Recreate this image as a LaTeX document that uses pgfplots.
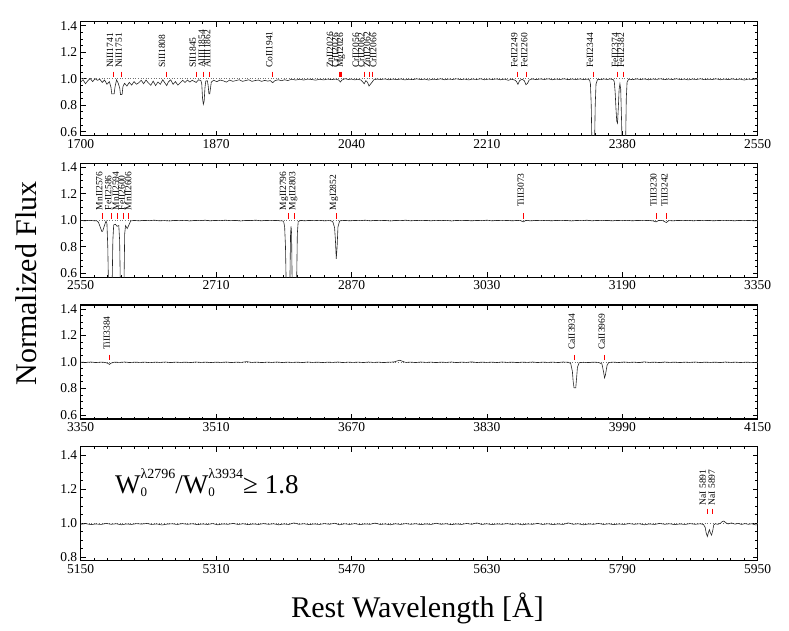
\documentclass[border=0pt]{standalone}
\usepackage{pgfplots}
\pgfplotsset{compat=1.18}
\usepackage{fontspec}
\setmainfont{Liberation Serif}

\pgfplotsset{
  panel/.style={
    scale only axis, width=677pt, height=114pt, anchor=north west,
    tick align=inside,
    minor x tick num=9, minor y tick num=3,
    major tick length=5pt, minor tick length=2.5pt,
    axis line style={line width=1.2pt},
    every tick/.style={black, line width=0.8pt},
    tick label style={font=\fontsize{13.5}{14}\selectfont},
    /pgf/number format/assume math mode=true,
    xticklabel style={/pgf/number format/1000 sep={}},
    yticklabel style={/pgf/number format/.cd, fixed, fixed zerofill, precision=1},
    ymin=0.57, ymax=1.43, ytick={0.6,0.8,1.0,1.2,1.4},
  },
  spec/.style={black!85, line width=0.6pt},
  unity/.style={black!55, dotted, line width=0.6pt},
  mk/.style={only marks, mark=|, mark size=2.8pt, red, mark options={line width=1pt}},
}
\tikzset{lbl/.style={rotate=90, anchor=west, inner sep=0pt, font=\fontsize{9.5}{10}\selectfont}}
% W with a stacked subscript 0 and a small raised superscript
\newcommand\Wsub[1]{W\rlap{\raisebox{-3pt}{\fontsize{13}{13}\selectfont 0}}\raisebox{15pt}{\fontsize{14}{14}\selectfont #1}}

\begin{document}
\begin{tikzpicture}
\useasboundingbox (0,0) rectangle (789pt,-630pt);

% ---------------- panel 1 ----------------
\begin{axis}[panel, at={(80.7pt,-21.7pt)}, xmin=1700, xmax=2550,
  xtick={1700,1870,2040,2210,2380,2550}]
\addplot[unity] coordinates {(1700,1)(2550,1)};
\addplot[spec] coordinates {
(1700,0.975)(1703,0.992)(1706,0.962)(1709,0.985)(1712,1.002)(1715,0.978)(1718,1.000)(1721,0.988)(1724,0.996)(1727,0.972)(1730,0.990)(1733,0.958)(1736,0.978)
(1738,0.935)(1739,0.885)(1742,0.885)(1743,0.935)(1745,0.992)(1747,0.968)(1749,0.930)(1750,0.880)(1752,0.882)(1753,0.940)(1755,0.965)
(1758,0.945)(1761,0.972)(1764,0.952)(1767,0.978)(1770,0.958)(1773,0.970)(1776,0.988)(1779,0.962)(1782,0.990)(1785,0.968)(1788,0.950)(1791,0.982)(1794,0.948)(1797,0.975)(1800,0.958)(1803,0.992)(1806,0.965)(1808,0.948)(1810,0.975)(1813,0.992)(1816,0.958)(1819,0.978)(1822,0.952)(1825,0.970)(1828,0.988)(1831,0.972)(1834,0.990)(1837,0.975)(1840,0.988)(1843,0.978)(1845,0.972)(1848,0.992)(1851,0.985)
(1852,0.960)(1853,0.850)(1854,0.808)(1855,0.830)(1856,0.930)(1857,0.982)(1859,0.985)(1860,0.950)(1861,0.885)(1862,0.885)(1863,0.930)(1864,0.975)(1867,0.988)
(1871,0.978)(1875,0.990)(1879,0.984)(1883,0.974)(1887,0.990)(1891,0.980)(1895,0.986)(1899,0.992)(1903,0.980)(1907,0.986)(1911,0.992)(1915,0.980)(1919,0.986)(1923,0.990)(1927,0.980)(1931,0.987)(1935,0.982)(1938,0.986)(1941,0.970)(1944,0.986)(1948,0.992)(1952,0.985)(1956,0.992)(1960,0.986)
(1965,0.996)(1970,0.990)(1975,0.996)(1980,0.990)(1985,0.997)(1990,0.994)(1995,0.989)(2000,0.996)(2005,0.991)(2010,0.997)(2015,0.993)(2020,0.997)(2024,0.990)(2026,0.975)(2028,0.990)(2032,1.000)(2036,0.994)(2040,0.997)(2044,0.991)(2048,0.996)(2052,0.990)(2054,0.976)(2056,0.962)(2058,0.985)(2060,0.974)(2062,0.945)(2064,0.960)(2066,0.975)(2068,0.992)
(2072,0.997)(2077,0.994)(2082,0.998)(2087,0.992)(2092,0.997)(2097,0.993)(2102,0.998)(2107,0.991)(2112,0.996)(2117,0.993)(2122,0.999)(2127,0.993)(2132,0.997)(2137,0.990)(2142,0.996)(2147,0.994)(2152,0.999)(2157,0.992)(2162,0.997)(2167,0.994)(2172,0.999)(2177,0.993)(2182,0.997)(2187,0.991)(2192,0.997)(2197,0.994)(2202,0.999)(2207,0.992)(2212,0.997)(2217,0.994)(2222,0.998)(2227,0.992)(2232,0.997)(2237,0.988)(2241,0.996)
(2245,0.990)(2247,0.980)(2249,0.958)(2251,0.985)(2254,0.996)(2257,0.985)(2259,0.955)(2261,0.965)(2263,0.990)
(2267,0.998)(2272,0.993)(2277,0.998)(2282,0.994)(2287,0.999)(2292,0.992)(2297,0.997)(2302,0.994)(2307,0.999)(2312,0.993)(2317,0.997)(2322,0.994)(2327,0.998)(2332,0.993)(2336,0.997)
(2339,0.990)(2340,0.960)(2341,0.800)(2342,0.450)(2345,0.450)(2346,0.800)(2347,0.960)(2349,0.995)
(2353,0.993)(2357,0.998)(2361,0.994)(2365,0.998)(2369,0.992)
(2370,0.975)(2371,0.900)(2372,0.780)(2373,0.680)(2374,0.665)(2375,0.780)(2376,0.920)(2377,0.962)(2378,0.920)(2379,0.700)(2380,0.450)(2384,0.450)(2385,0.850)(2386,0.975)(2388,0.996)
(2393,0.993)(2398,0.998)(2403,0.994)(2408,0.998)(2413,0.992)(2418,0.997)(2423,0.995)(2428,0.999)(2433,0.993)(2438,0.997)(2443,0.994)(2448,0.999)(2453,0.993)(2458,0.997)(2463,0.991)(2468,0.997)(2473,0.994)(2478,0.999)(2483,0.993)(2488,0.996)(2493,0.994)(2498,0.999)(2503,0.992)(2508,0.997)(2513,0.993)(2518,0.998)(2523,0.994)(2528,0.997)(2533,0.990)(2538,0.997)(2543,0.994)(2548,0.997)(2550,0.995)
};
\addplot[mk] coordinates {(1741,1.033)(1751,1.033)(1808,1.033)(1845,1.033)(1854,1.033)(1862,1.033)(1941,1.033)(2025,1.033)(2026,1.033)(2027,1.033)(2056,1.033)(2062,1.033)(2066,1.033)(2249,1.033)(2260,1.033)(2344,1.033)(2374,1.033)(2382,1.033)};
\node[lbl] at (axis cs:1736.8,1.08) {NiII1741};
\node[lbl] at (axis cs:1747.7,1.08) {NiII1751};
\node[lbl] at (axis cs:1802,1.08) {SiII1808};
\node[lbl] at (axis cs:1840.6,1.08) {SII1845};
\node[lbl] at (axis cs:1851.9,1.08) {AlIII1854};
\node[lbl] at (axis cs:1858.6,1.08) {AlIII1862};
\node[lbl] at (axis cs:1936.8,1.08) {CoII1941};
\node[lbl] at (axis cs:2013,1.08) {ZnII2026};
\node[lbl] at (axis cs:2019.7,1.08) {CrII2026};
\node[lbl] at (axis cs:2026.8,1.08) {MgI2026};
\node[lbl] at (axis cs:2045.3,1.08) {CrII2056};
\node[lbl] at (axis cs:2052.3,1.08) {CrII2062};
\node[lbl] at (axis cs:2059.5,1.08) {ZnII2062};
\node[lbl] at (axis cs:2067.4,1.08) {CrII2066};
\node[lbl] at (axis cs:2244.4,1.08) {FeII2249};
\node[lbl] at (axis cs:2257,1.08) {FeII2260};
\node[lbl] at (axis cs:2339.4,1.08) {FeII2344};
\node[lbl] at (axis cs:2370.8,1.08) {FeII2374};
\node[lbl] at (axis cs:2378.3,1.08) {FeII2382};
\end{axis}

% ---------------- panel 2 ----------------
\begin{axis}[panel, at={(80.7pt,-163.3pt)}, xmin=2550, xmax=3350,
  xtick={2550,2710,2870,3030,3190,3350}]
\addplot[unity] coordinates {(2550,1)(3350,1)};
\addplot[spec] coordinates {
(2550,0.999)(2555,0.996)(2560,1.000)(2565,0.997)(2569,0.996)(2571,0.985)(2573,0.950)(2575,0.915)(2576,0.918)(2578,0.960)(2580,0.995)
(2581,0.975)(2582,0.800)(2583,0.450)(2587,0.450)(2588,0.850)(2589,0.965)(2591,0.970)(2593,0.955)(2595,0.960)(2596,0.850)(2597,0.450)(2601,0.450)(2602,0.900)(2603,0.960)(2605,0.938)(2607,0.965)(2609,0.995)
(2613,0.999)(2619,0.996)(2625,0.999)(2631,0.997)(2637,1.001)(2643,0.996)(2649,0.998)(2655,0.995)(2661,0.999)(2667,0.997)(2673,1.000)(2679,0.995)(2685,0.999)(2691,0.997)(2697,1.001)(2703,0.996)(2709,0.999)(2715,0.997)(2721,1.001)(2727,0.997)(2733,0.999)(2739,0.995)(2745,0.999)(2751,0.998)(2757,1.001)(2763,0.996)(2769,0.999)(2775,0.997)(2781,0.999)(2786,0.996)
(2789,0.995)(2790,0.985)(2791,0.950)(2792,0.800)(2793,0.450)(2797,0.450)(2798,0.900)(2798.6,0.955)(2799.2,0.900)(2800,0.450)(2805,0.450)(2806,0.900)(2807,0.990)
(2810,0.999)(2815,0.996)(2820,0.999)(2826,0.997)(2832,1.000)(2838,0.996)(2843,0.998)(2846,0.996)
(2848,0.988)(2850,0.945)(2851,0.850)(2852,0.710)(2853,0.800)(2854,0.950)(2856,0.996)
(2862,0.999)(2868,0.996)(2874,0.999)(2880,0.997)(2886,1.001)(2892,0.996)(2898,0.999)(2904,0.997)(2910,0.999)(2916,0.995)(2922,0.999)(2928,0.997)(2934,1.001)(2940,0.996)(2946,0.999)(2952,0.997)(2958,0.999)(2964,0.996)(2970,1.000)(2976,0.997)(2982,1.000)(2988,0.995)(2994,0.999)(3000,0.997)(3006,0.999)(3012,0.996)(3018,0.999)(3024,0.997)(3030,1.001)(3036,0.996)(3042,0.999)(3048,0.997)(3054,0.999)(3060,0.996)(3066,0.999)
(3070,0.997)(3073,0.988)(3076,0.999)
(3082,0.996)(3088,0.999)(3094,0.997)(3100,1.000)(3106,0.996)(3112,0.999)(3118,0.997)(3124,0.999)(3130,0.995)(3136,0.999)(3142,0.997)(3148,1.001)(3154,0.996)(3160,0.999)(3166,0.997)(3172,0.999)(3178,0.996)(3184,0.999)(3190,0.997)(3196,1.000)(3202,0.996)(3208,0.999)(3214,0.997)(3220,0.999)(3226,0.996)
(3230,0.988)(3233,0.999)(3238,0.997)(3242,0.983)(3245,0.998)
(3250,0.996)(3256,0.999)(3262,0.997)(3268,1.000)(3274,0.996)(3280,0.999)(3286,0.997)(3292,0.999)(3298,0.996)(3304,0.999)(3310,0.997)(3316,1.000)(3322,0.996)(3328,0.999)(3334,0.997)(3340,0.999)(3346,0.996)(3350,0.998)
};
\addplot[mk] coordinates {(2576,1.033)(2586,1.033)(2594,1.033)(2600,1.033)(2606,1.033)(2796,1.033)(2803,1.033)(2852,1.033)(3073,1.033)(3230,1.033)(3242,1.033)};
\node[lbl] at (axis cs:2572,1.075) {MnII2576};
\node[lbl] at (axis cs:2582.6,1.075) {FeII2586};
\node[lbl] at (axis cs:2591.4,1.075) {MnII2594};
\node[lbl] at (axis cs:2598.5,1.075) {FeII2600};
\node[lbl] at (axis cs:2606.3,1.075) {MnII2606};
\node[lbl] at (axis cs:2790.3,1.075) {MgII2796};
\node[lbl] at (axis cs:2801.3,1.075) {MgII2803};
\node[lbl] at (axis cs:2849.4,1.075) {MgI2852};
\node[lbl] at (axis cs:3070,1.1) {TiII3073};
\node[lbl] at (axis cs:3226.8,1.1) {TiII3230};
\node[lbl] at (axis cs:3239.8,1.1) {TiII3242};
\end{axis}

% ---------------- panel 3 ----------------
\begin{axis}[panel, at={(80.7pt,-305pt)}, xmin=3350, xmax=4150,
  xtick={3350,3510,3670,3830,3990,4150}]
\addplot[unity] coordinates {(3350,1)(4150,1)};
\addplot[spec] coordinates {
(3350,0.999)(3356,0.997)(3362,1.000)(3368,0.996)(3374,0.999)(3379,0.997)(3382,0.990)(3384,0.982)(3386,0.992)(3390,0.999)
(3396,0.997)(3402,1.000)(3408,0.996)(3414,0.999)(3420,0.997)(3426,0.999)(3432,0.995)(3438,0.999)(3444,0.997)(3450,1.000)(3456,0.996)(3462,0.999)(3468,0.997)(3474,0.999)(3480,0.996)(3486,1.000)(3492,0.997)(3498,0.999)(3504,0.996)(3510,0.999)(3516,0.997)(3522,1.000)(3528,0.996)(3534,0.999)(3540,0.997)(3546,1.003)(3552,0.997)(3558,0.999)(3564,0.996)(3570,0.999)(3576,0.997)(3582,1.000)(3588,0.996)(3594,0.999)(3600,0.997)(3606,0.999)(3612,0.996)(3618,1.000)(3624,0.997)(3630,0.999)(3636,0.996)(3642,0.999)(3648,0.997)(3654,1.000)(3660,0.996)(3666,0.999)(3672,0.997)(3678,0.999)(3684,0.996)(3690,1.000)(3696,0.997)(3702,0.999)(3708,0.996)(3714,0.999)(3720,1.000)
(3724,1.008)(3727,1.013)(3730,1.006)(3734,0.997)
(3740,0.999)(3746,0.996)(3752,1.000)(3758,0.997)(3764,0.999)(3770,0.996)(3776,0.999)(3782,0.997)(3788,1.000)(3794,0.996)(3800,0.999)(3806,0.997)(3812,1.001)(3818,0.996)(3824,0.999)(3830,0.997)(3836,0.999)(3842,0.996)(3848,1.000)(3854,0.997)(3860,0.999)(3866,0.996)(3872,0.999)(3878,0.997)(3884,1.000)(3890,0.996)(3896,0.999)(3902,0.997)(3908,0.999)(3914,0.996)(3920,1.000)(3926,0.998)
(3929,0.990)(3931,0.930)(3932,0.850)(3933,0.805)(3935,0.805)(3936,0.880)(3937,0.960)(3939,0.995)
(3944,0.998)(3950,0.996)(3956,0.999)(3962,0.997)(3966,0.985)(3968,0.920)(3969,0.880)(3970,0.900)(3972,0.975)(3974,0.997)
(3980,0.999)(3986,0.996)(3992,1.000)(3998,0.997)(4004,0.999)(4010,0.996)(4016,1.001)(4022,0.997)(4028,0.999)(4034,0.996)(4040,1.000)(4046,0.997)(4052,0.999)(4058,0.996)(4064,0.999)(4070,0.997)(4076,1.000)(4082,0.996)(4088,0.999)(4094,0.997)(4100,0.999)(4106,0.996)(4112,1.000)(4118,0.997)(4124,0.999)(4130,0.996)(4136,0.999)(4142,0.997)(4150,0.998)
};
\addplot[mk] coordinates {(3384,1.035)(3934,1.033)(3969,1.033)};
\node[lbl] at (axis cs:3380.7,1.09) {TiII3384};
\node[lbl] at (axis cs:3930.4,1.09) {CaII3934};
\node[lbl] at (axis cs:3965.8,1.09) {CaII3969};
\end{axis}

% ---------------- panel 4 ----------------
\begin{axis}[panel, at={(80.7pt,-446.7pt)}, xmin=5150, xmax=5950,
  xtick={5150,5310,5470,5630,5790,5950},
  ymin=0.78, ymax=1.45, ytick={0.8,1.0,1.2,1.4}]
\addplot[unity] coordinates {(5150,1)(5950,1)};
\addplot[spec] coordinates {
(5150,0.994)(5156,0.998)(5162,0.992)(5168,0.996)(5174,0.993)(5180,0.999)(5186,0.994)(5192,0.997)(5198,0.991)(5204,0.996)(5210,0.993)(5216,0.998)(5222,0.995)(5228,0.999)(5234,0.993)(5240,0.996)(5246,0.990)(5252,0.995)(5258,0.997)(5264,0.993)(5270,0.998)(5276,0.994)(5282,0.997)(5288,0.992)(5294,0.996)(5300,0.993)(5306,0.998)(5312,0.991)(5318,0.996)(5324,0.994)(5330,0.999)(5336,0.993)(5342,0.997)(5348,0.992)(5354,0.996)(5360,0.993)(5366,0.998)(5372,0.994)(5378,0.997)(5384,0.991)(5390,0.996)(5396,0.993)(5402,1.002)(5408,0.994)(5414,0.997)(5420,0.992)(5426,0.996)(5432,0.993)(5438,0.998)(5444,0.994)(5450,1.000)(5456,0.991)(5462,0.997)(5468,0.993)(5474,0.998)(5480,0.992)(5486,0.996)(5492,0.994)(5498,1.001)(5504,0.993)(5510,0.996)(5516,0.991)(5522,0.997)(5528,0.993)(5534,0.998)(5540,0.994)(5546,0.997)(5552,0.992)(5558,0.996)(5564,0.993)(5570,1.000)(5576,0.994)(5582,0.997)(5588,0.992)(5594,0.996)(5600,0.993)(5606,0.999)(5612,0.994)(5618,1.002)(5624,0.993)(5630,0.997)(5636,0.992)(5642,0.996)(5648,0.994)(5654,0.998)(5660,0.993)(5666,0.997)(5672,0.991)(5678,0.996)(5684,0.994)(5690,0.999)(5696,0.993)(5702,0.997)(5708,0.992)(5714,0.996)(5720,0.993)(5726,1.002)(5732,0.994)(5738,0.997)(5744,0.991)(5750,0.996)(5756,0.994)(5762,0.999)(5768,0.993)(5774,0.997)(5780,0.992)(5786,0.996)(5792,0.993)(5798,0.998)(5804,0.994)(5810,0.997)(5816,0.991)(5822,0.996)(5828,0.993)(5834,0.999)(5840,0.994)(5846,0.997)(5852,0.992)(5858,0.996)(5864,0.993)(5870,0.998)(5876,0.994)(5882,0.997)(5886,0.993)
(5888,0.975)(5889,0.945)(5890.5,0.922)(5892,0.950)(5893,0.962)(5894,0.945)(5895.5,0.930)(5897,0.960)(5898,0.990)(5900,0.997)
(5903,0.994)(5906,1.000)(5908,1.010)(5910,1.013)(5912,1.004)(5915,0.996)(5919,1.002)(5923,0.995)(5927,0.999)(5931,0.993)(5935,0.998)(5939,0.994)(5943,0.997)(5947,0.991)(5950,0.990)
};
\addplot[mk] coordinates {(5891,1.07)(5897,1.07)};
\node[lbl] at (axis cs:5885.2,1.105) {NaI 5891};
\node[lbl] at (axis cs:5895.8,1.105) {NaI 5897};
\end{axis}

% labels round the panels
\node[rotate=90, font=\fontsize{30}{30}\selectfont] at (26pt,-283.5pt) {Normalized Flux};
\node[anchor=base, font=\fontsize{30}{30}\selectfont] at (417.5pt,-617pt) {Rest Wavelength [Å]};
\node[anchor=base west, inner sep=0pt, font=\fontsize{27}{27}\selectfont] at (115pt,-493.3pt)
  {\Wsub{λ2796}/\Wsub{λ3934}≥ 1.8};
\end{tikzpicture}
\end{document}
